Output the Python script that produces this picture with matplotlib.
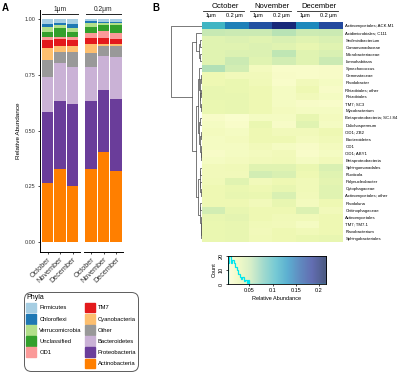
import matplotlib
matplotlib.use("Agg")
import matplotlib.pyplot as plt
import matplotlib.transforms as mtransforms
import numpy as np
from matplotlib.patches import Patch
from matplotlib.lines import Line2D

plt.rcParams['font.family'] = ['Liberation Sans', 'DejaVu Sans']

# ---- panel A data (stacked, bottom to top) ----
months = ['October', 'November', 'December']
sizes = ['1μm', '0.2μm']
phyla = ['Actinobacteria', 'Proteobacteria', 'Bacteroidetes', 'Other', 'Cyanobacteria',
         'TM7', 'OD1', 'Unclassified', 'Verrucomicrobia', 'Chloroflexi', 'Firmicutes']
phyla_colors = ['#ff7f00', '#6a3d9a', '#cab2d6', '#999999', '#fdbf6f',
                '#e31a1c', '#fb9a99', '#33a02c', '#b2df8a', '#1f78b4', '#a6cee3']
# order: 1μm Oct/Nov/Dec, 0.2μm Oct/Nov/Dec
actinobacteria = [0.263, 0.326, 0.253, 0.326, 0.404, 0.320]
proteobacteria = [0.322, 0.309, 0.365, 0.306, 0.279, 0.324]
bacteroidetes = [0.155, 0.167, 0.166, 0.152, 0.154, 0.185]
other = [0.076, 0.053, 0.071, 0.063, 0.043, 0.051]
cyanobacteria = [0.054, 0.025, 0.025, 0.041, 0.008, 0.008]
tm7 = [0.037, 0.030, 0.027, 0.027, 0.027, 0.022]
od1 = [0.015, 0.012, 0.015, 0.022, 0.033, 0.030]
unclassified = [0.023, 0.041, 0.023, 0.030, 0.027, 0.035]
verrucomicrobia = [0.019, 0.012, 0.018, 0.016, 0.010, 0.007]
chloroflexi = [0.015, 0.010, 0.016, 0.011, 0.005, 0.008]
firmicutes = [0.021, 0.015, 0.021, 0.006, 0.010, 0.010]
abund = [actinobacteria, proteobacteria, bacteroidetes, other, cyanobacteria,
         tm7, od1, unclassified, verrucomicrobia, chloroflexi, firmicutes]

# ---- panel B data ----
col_months = ['October', 'November', 'December']
col_sizes = ['1μm', '0.2 μm', '1μm', '0.2 μm', '1μm', '0.2 μm']
taxa = ['Actinomycetales; ACK.M1', 'Acidimicrobiales; C111', 'Sediminibacterium',
        'Comamonadaceae', 'Microbacteriaceae', 'Limnohabitans', 'Synechococcus',
        'Gemmataceae', 'Rhodobacter', 'Rhizobiales; other', 'Rhizobiales', 'TM7; SC3',
        'Mycobacterium', 'Betaproteobacteria; SC.I.84', 'Dolichospermum', 'OD1; ZB2',
        'Bacteroidetes', 'OD1', 'OD1; ABY1', 'Betaproteobacteria', 'Sphingomonadales',
        'Fluviicola', 'Polynucleobacter', 'Cytophagaceae', 'Actinomycetales; other',
        'Rhodoluna', 'Chitinophagaceae', 'Actinomycetales', 'TM7; TM7.1',
        'Flavobacterium', 'Sphingobacteriales']
heat = [
    [0.105, 0.140, 0.165, 0.195, 0.135, 0.170],
    [0.052, 0.050, 0.050, 0.058, 0.048, 0.050],
    [0.035, 0.038, 0.035, 0.040, 0.035, 0.040],
    [0.035, 0.035, 0.038, 0.035, 0.030, 0.035],
    [0.035, 0.038, 0.038, 0.055, 0.035, 0.040],
    [0.035, 0.050, 0.035, 0.045, 0.035, 0.050],
    [0.060, 0.045, 0.018, 0.010, 0.010, 0.012],
    [0.025, 0.020, 0.020, 0.012, 0.010, 0.012],
    [0.025, 0.028, 0.022, 0.010, 0.020, 0.015],
    [0.030, 0.028, 0.025, 0.015, 0.025, 0.012],
    [0.030, 0.030, 0.025, 0.015, 0.020, 0.015],
    [0.028, 0.030, 0.025, 0.015, 0.012, 0.010],
    [0.028, 0.030, 0.025, 0.018, 0.015, 0.015],
    [0.012, 0.008, 0.015, 0.015, 0.030, 0.018],
    [0.015, 0.010, 0.028, 0.012, 0.035, 0.015],
    [0.018, 0.015, 0.025, 0.020, 0.020, 0.025],
    [0.015, 0.018, 0.025, 0.025, 0.018, 0.022],
    [0.015, 0.015, 0.020, 0.015, 0.012, 0.018],
    [0.012, 0.015, 0.018, 0.020, 0.010, 0.015],
    [0.015, 0.018, 0.020, 0.022, 0.015, 0.020],
    [0.020, 0.022, 0.035, 0.035, 0.028, 0.040],
    [0.020, 0.020, 0.045, 0.040, 0.025, 0.035],
    [0.022, 0.035, 0.020, 0.025, 0.022, 0.032],
    [0.025, 0.028, 0.025, 0.030, 0.022, 0.035],
    [0.025, 0.030, 0.028, 0.040, 0.020, 0.035],
    [0.025, 0.025, 0.020, 0.030, 0.018, 0.025],
    [0.045, 0.030, 0.025, 0.025, 0.038, 0.020],
    [0.030, 0.032, 0.025, 0.022, 0.022, 0.025],
    [0.028, 0.030, 0.022, 0.020, 0.015, 0.025],
    [0.028, 0.030, 0.020, 0.025, 0.022, 0.025],
    [0.028, 0.030, 0.022, 0.025, 0.028, 0.030],
]
# row dendrogram: (height, left, right), leaves are row indices
tree = (1.0, 0, (0.30,
    (0.17, 1, (0.10, (0.06, 2, 3), (0.07, 4, 5))),
    (0.19,
        (0.12,
            (0.09, 6, (0.06, (0.03, 7, 8), (0.04, (0.02, 9, 10), (0.03, 11, 12)))),
            (0.08, (0.05, 13, 14), (0.04, (0.02, 15, 16), (0.03, 17, (0.02, 18, 19))))),
        (0.11,
            (0.07, (0.04, 20, 21), (0.05, 22, (0.03, 23, 24))),
            (0.06, (0.04, 25, 26), (0.03, 27, (0.02, 28, (0.01, 29, 30))))))))
# colour key histogram
hist_edges = [0.004, 0.0072, 0.0105, 0.0135, 0.0165, 0.020, 0.023, 0.026,
              0.029, 0.032, 0.035, 0.038, 0.041, 0.044, 0.047, 0.050, 0.215]
hist_counts = [15, 20, 15, 17, 15, 12, 10, 7, 5, 4, 5, 2, 3, 1, 3, 0]

W, H = 400, 375
fig = plt.figure(figsize=(4, 3.75), dpi=100)


def px_rect(l, t, r, b):
    return [l / W, 1 - b / H, (r - l) / W, (b - t) / H]


# ================= Panel A =================
fig.text(2 / W, 1 - 8 / H, 'A', fontsize=7, fontweight='bold', va='center')
ax1 = fig.add_axes(px_rect(40, 10, 80, 252))
ax2 = fig.add_axes(px_rect(83.5, 10, 123.5, 252))
for k, ax in enumerate([ax1, ax2]):
    xs = np.arange(1, 4)
    bottom = np.zeros(3)
    for vals, col in zip(abund, phyla_colors):
        v = np.array(vals[k * 3:(k + 1) * 3])
        ax.bar(xs, v, bottom=bottom, width=0.9, color=col, linewidth=0)
        bottom += v
    ax.set_xlim(0.4, 3.6)
    ax.set_ylim(-0.045, 1.042)
    ax.set_xticks(xs)
    ax.set_xticklabels(months, rotation=45, ha='right', rotation_mode='anchor',
                       fontsize=5.2, color='#333333')
    ax.tick_params(axis='x', length=1.5, width=0.5, pad=1.5)
    for s in ['top', 'right']:
        ax.spines[s].set_visible(False)
    ax.spines['bottom'].set_linewidth(0.7)
    ax.spines['left'].set_linewidth(0.7)
    # strip label with underline
    ax.text(0.5, 1.002, sizes[k], transform=ax.transAxes, ha='center', va='center',
            fontsize=4.8, color='#222222')
    ax.add_line(Line2D([0.06, 0.94], [0.985, 0.985], transform=ax.transAxes,
                       color='#222222', lw=0.7, clip_on=False))
ax1.set_yticks([0, 0.25, 0.5, 0.75, 1.0])
ax1.set_yticklabels(['0.00', '0.25', '0.50', '0.75', '1.00'], fontsize=4, color='#333333')
ax1.tick_params(axis='y', length=1.5, width=0.5, pad=1.5)
ax1.set_ylabel('Relative Abundance', fontsize=4.6, labelpad=3)
ax2.spines['left'].set_visible(False)
ax2.set_yticks([])

# legend
handles = [Patch(color=phyla_colors[phyla.index(n)]) for n in
           ['Firmicutes', 'Chloroflexi', 'Verrucomicrobia', 'Unclassified', 'OD1']]
labels = ['Firmicutes', 'Chloroflexi', 'Verrucomicrobia', 'Unclassified', 'OD1']
handles.append(Patch(color='none'))
labels.append('')
for n in ['TM7', 'Cyanobacteria', 'Other', 'Bacteroidetes', 'Proteobacteria', 'Actinobacteria']:
    handles.append(Patch(color=phyla_colors[phyla.index(n)]))
    labels.append(n)
leg = fig.legend(handles, labels, ncol=2, loc='upper left',
                 bbox_to_anchor=(21 / W, 1 - 289 / H), fontsize=4.2,
                 title='Phyla', title_fontsize=5, alignment='left',
                 handlelength=1.75, handleheight=2.2, labelspacing=0.24,
                 columnspacing=0.45, handletextpad=0.5, borderpad=0.4,
                 fancybox=True, frameon=True)
leg.get_frame().set_edgecolor('#333333')
leg.get_frame().set_linewidth(0.7)
leg.get_frame().set_boxstyle('round,pad=0,rounding_size=1.2')

# ================= Panel B =================
fig.text(152 / W, 1 - 8 / H, 'B', fontsize=7, fontweight='bold', va='center')
data = np.array(heat)
axh = fig.add_axes(px_rect(201.7, 22.3, 342.7, 242))
axh.imshow(data, aspect='auto', cmap='YlGnBu', vmin=0, vmax=0.21, interpolation='nearest')
axh.set_xticks([])
axh.yaxis.tick_right()
axh.set_yticks(np.arange(len(taxa)))
axh.set_yticklabels(taxa, fontsize=3.1)
axh.tick_params(axis='y', length=0, pad=2)
for s in axh.spines.values():
    s.set_visible(False)

trans = mtransforms.blended_transform_factory(axh.transData, fig.transFigure)
for i, m in enumerate(col_months):
    c = 2 * i + 0.5
    axh.text(c, 1 - 6 / H, m, transform=trans, ha='center', va='center', fontsize=5.5)
    axh.add_line(Line2D([c - 0.95, c + 0.8], [1 - 11 / H, 1 - 11 / H], transform=trans,
                        color='#222222', lw=0.6, clip_on=False))
for j, s in enumerate(col_sizes):
    axh.text(j - 0.1, 1 - 16 / H, s, transform=trans, ha='center', va='center', fontsize=4)

# dendrogram
axd = fig.add_axes(px_rect(170, 22.3, 201.7, 242))
axd.set_ylim(len(taxa) - 0.5, -0.5)
axd.set_xlim(1.02, 0)
axd.axis('off')


def draw(node):
    if isinstance(node, int):
        return node, 0.0
    h, left, right = node
    yl, hl = draw(left)
    yr, hr = draw(right)
    axd.plot([hl, h, h, hr], [yl, yl, yr, yr], color='#555555', lw=0.55)
    return (yl + yr) / 2, h


draw(tree)

# colour key with histogram
axk = fig.add_axes(px_rect(228, 255.7, 326, 284.3))
xmin, xmax = 0.004, 0.215
grad = np.linspace(xmin, xmax, 256)[None, :]
axk.imshow(grad, aspect='auto', cmap='YlGnBu', vmin=0, vmax=0.21, alpha=0.72,
           extent=(xmin, xmax, 0, 20.3), origin='lower')
axk.stairs(hist_counts, hist_edges, color='#00e5ee', lw=0.9)
axk.set_xlim(xmin, xmax)
axk.set_ylim(0, 20.3)
axk.set_xticks([0.05, 0.1, 0.15, 0.2])
axk.set_xticklabels(['0.05', '0.1', '0.15', '0.2'], fontsize=4)
axk.set_yticks([0, 10, 20])
axk.set_yticklabels(['0', '10', '20'], fontsize=4, rotation=90, va='center')
axk.tick_params(length=1.5, width=0.5, pad=1.5)
for s in axk.spines.values():
    s.set_linewidth(0.6)
axk.set_xlabel('Relative Abundance', fontsize=4, labelpad=1.5)
axk.set_ylabel('Count', fontsize=4, labelpad=1.5)

fig.savefig('out.png', dpi=100)
